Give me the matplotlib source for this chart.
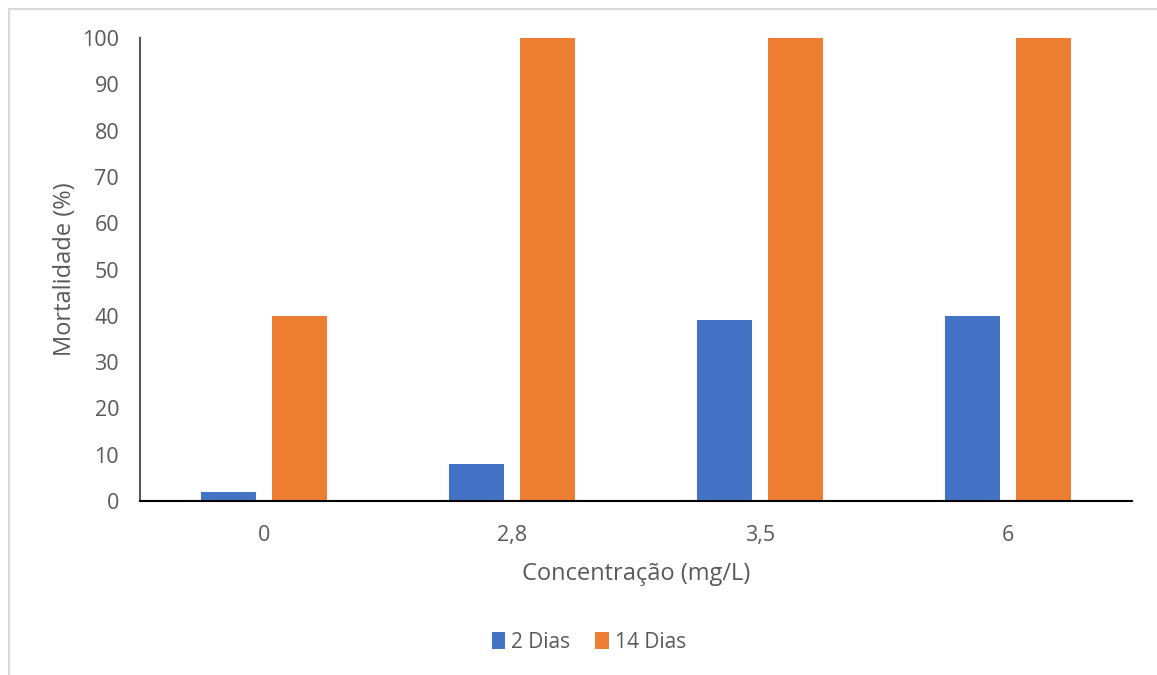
import numpy as np
import matplotlib.pyplot as plt
from matplotlib.lines import Line2D

# data
categories = ["0", "2,8", "3,5", "6"]
dias_2 = [2, 8, 39, 40]
dias_14 = [40, 100, 100, 100]
y_ticks = list(range(0, 101, 10))

plt.rcParams['font.family'] = ['Open Sans', 'DejaVu Sans']

fig = plt.figure(figsize=(11.57, 6.75), dpi=100)
ax = fig.add_axes([140 / 1157, 1 - 501 / 675, 992 / 1157, 463 / 675])

x = np.arange(len(categories))
w = 0.222
gap = 0.065
ax.bar(x - (w + gap) / 2, dias_2, w, color="#4472C4", label="2 Dias", zorder=2)
ax.bar(x + (w + gap) / 2, dias_14, w, color="#ED7D31", label="14 Dias", zorder=2)

ax.set_xlim(-0.5, len(categories) - 0.5)
ax.set_ylim(0, 100)
ax.set_xticks(x)
ax.set_xticklabels(categories)
ax.set_yticks(y_ticks)
ax.tick_params(axis="both", length=0, labelsize=15.5, colors="#595959")
ax.tick_params(axis="x", pad=17)
ax.tick_params(axis="y", pad=15)

for s in ["top", "right"]:
    ax.spines[s].set_visible(False)
ax.spines["left"].set_color("#595959")
ax.spines["left"].set_linewidth(1.5)
ax.spines["bottom"].set_color("black")
ax.spines["bottom"].set_linewidth(1.5)

ax.set_xlabel("Concentração (mg/L)", fontsize=17, color="#595959", labelpad=12)
ax.set_ylabel("Mortalidade (%)", fontsize=17, color="#595959", labelpad=4)

ax.legend(loc="center", bbox_to_anchor=(589 / 1157, 1 - 642 / 675),
          bbox_transform=fig.transFigure, ncol=2, frameon=False,
          fontsize=15, handlelength=0.65, handleheight=0.85,
          handletextpad=0.3, columnspacing=1.2, labelcolor="#595959")

# light outer frame (top and left edges)
fig.add_artist(Line2D([9 / 1157, 9 / 1157], [0, 1 - 9 / 675],
                      transform=fig.transFigure, color="#D9D9D9", lw=1.5))
fig.add_artist(Line2D([9 / 1157, 1], [1 - 9 / 675, 1 - 9 / 675],
                      transform=fig.transFigure, color="#D9D9D9", lw=1.5))

fig.savefig("out.png", dpi=100)
